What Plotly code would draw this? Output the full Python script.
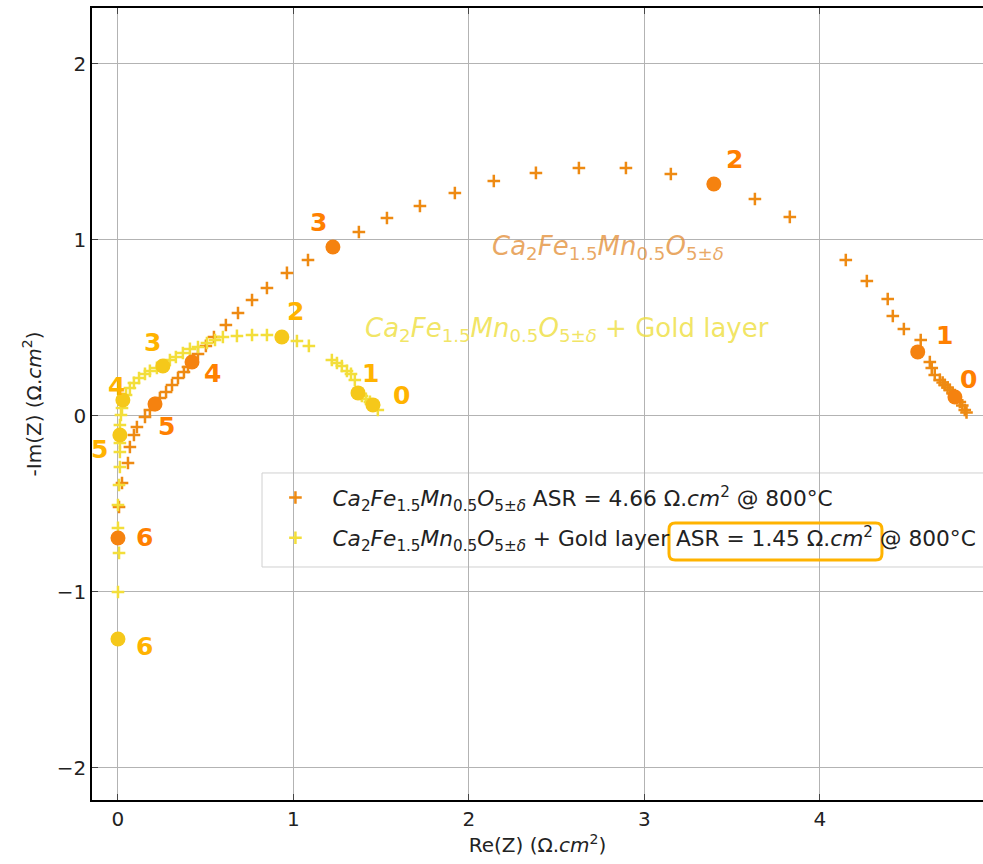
import plotly.graph_objects as go

# ---------------- data ----------------
# Ca2Fe1.5Mn0.5O5±δ (orange) impedance points
orange_re = [0.006, 0.023, 0.057, 0.068, 0.091, 0.108, 0.154, 0.182, 0.239, 0.274, 0.308, 0.342,
             0.376, 0.399, 0.456, 0.501, 0.547, 0.615, 0.684, 0.764, 0.849, 0.963, 1.083, 1.373,
             1.533, 1.721, 1.920, 2.142, 2.382, 2.627, 2.895, 3.151, 3.630, 3.829, 4.148, 4.268,
             4.387, 4.416, 4.479, 4.575, 4.627, 4.638, 4.655, 4.684, 4.700, 4.712, 4.728, 4.741,
             4.757, 4.770, 4.798, 4.812, 4.826, 4.836]
orange_im = [-0.517, -0.381, -0.267, -0.176, -0.108, -0.063, -0.006, 0.034, 0.102, 0.136, 0.176, 0.216,
             0.250, 0.278, 0.352, 0.398, 0.449, 0.517, 0.585, 0.659, 0.727, 0.813, 0.886, 1.045,
             1.125, 1.193, 1.267, 1.335, 1.381, 1.409, 1.409, 1.375, 1.233, 1.131, 0.886, 0.767,
             0.665, 0.568, 0.494, 0.432, 0.307, 0.273, 0.233, 0.205, 0.190, 0.176, 0.162, 0.148,
             0.128, 0.108, 0.080, 0.060, 0.034, 0.020]
# decade markers (orange)
orange_dec_re = [0.0, 0.211, 0.422, 1.225, 3.396, 4.558, 4.770]
orange_dec_im = [-0.693, 0.068, 0.307, 0.960, 1.318, 0.364, 0.108]
orange_dec_lbl = ["6", "5", "4", "3", "2", "1", "0"]
orange_lbl_re = [0.154, 0.279, 0.541, 1.140, 3.516, 4.712, 4.850]
orange_lbl_im = [-0.693, -0.057, 0.244, 1.100, 1.455, 0.460, 0.205]

# Ca2Fe1.5Mn0.5O5±δ + Gold layer (yellow) impedance points
yellow_re = [0.0, 0.006, 0.0, 0.0, 0.006, 0.011, 0.011, 0.011, 0.011, 0.017, 0.023, 0.046, 0.068,
             0.091, 0.120, 0.154, 0.182, 0.222, 0.296, 0.330, 0.370, 0.410, 0.456, 0.507, 0.553,
             0.598, 0.678, 0.764, 0.849, 1.020, 1.088, 1.219, 1.248, 1.276, 1.305, 1.328, 1.350,
             1.390, 1.413, 1.436, 1.459, 1.481]
yellow_im = [-1.000, -0.778, -0.636, -0.506, -0.392, -0.290, -0.205, -0.153, -0.051, 0.006, 0.045,
             0.119, 0.159, 0.188, 0.216, 0.239, 0.256, 0.273, 0.318, 0.335, 0.358, 0.381, 0.392,
             0.415, 0.432, 0.449, 0.455, 0.460, 0.460, 0.426, 0.398, 0.318, 0.301, 0.284, 0.256,
             0.239, 0.205, 0.114, 0.097, 0.080, 0.063, 0.034]
yellow_dec_re = [0.0, 0.011, 0.028, 0.256, 0.934, 1.368, 1.453]
yellow_dec_im = [-1.267, -0.108, 0.091, 0.284, 0.449, 0.131, 0.063]
yellow_dec_lbl = ["6", "5", "4", "3", "2", "1", "0"]
yellow_lbl_re = [0.154, -0.103, -0.011, 0.194, 1.014, 1.442, 1.618]
yellow_lbl_im = [-1.307, -0.193, 0.165, 0.415, 0.591, 0.244, 0.114]

x_ticks = [0, 1, 2, 3, 4]
y_ticks = [-2, -1, 0, 1, 2]

# ---------------- styling ----------------
ORANGE_PLUS = "#EE8A12"
ORANGE_DOT = "#F5820F"
ORANGE_TXT = "#FF8000"
YELLOW_PLUS = "#F3DE3A"
YELLOW_DOT = "#F5C81A"
YELLOW_TXT = "#FFB300"
FONT = "DejaVu Sans"

formula = ("<i>Ca</i><sub>2</sub><i>Fe</i><sub>1.5</sub><i>Mn</i><sub>0.5</sub>"
           "<i>O</i><sub>5±<i>δ</i></sub>")

fig = go.Figure()

fig.add_trace(go.Scatter(
    x=orange_re, y=orange_im, mode="markers",
    marker=dict(symbol="cross-thin", size=9, line=dict(width=2.5, color=ORANGE_PLUS)),
    name=formula + " ASR = 4.66 Ω.<i>cm</i><sup>2</sup> @ 800°C",
    legendgroup="a"))
fig.add_trace(go.Scatter(
    x=yellow_re, y=yellow_im, mode="markers",
    marker=dict(symbol="cross-thin", size=9, line=dict(width=2.5, color=YELLOW_PLUS)),
    name=formula + " + Gold layer ASR = 1.45 Ω.<i>cm</i><sup>2</sup> @ 800°C",
    legendgroup="b"))
fig.add_trace(go.Scatter(
    x=orange_dec_re, y=orange_dec_im, mode="markers",
    marker=dict(symbol="circle", size=15, color=ORANGE_DOT), showlegend=False))
fig.add_trace(go.Scatter(
    x=yellow_dec_re, y=yellow_dec_im, mode="markers",
    marker=dict(symbol="circle", size=15, color=YELLOW_DOT), showlegend=False))

annotations = []
for xv, yv, t in zip(orange_lbl_re, orange_lbl_im, orange_dec_lbl):
    annotations.append(dict(x=xv, y=yv, text="<b>%s</b>" % t, showarrow=False,
                            font=dict(family=FONT, size=25, color=ORANGE_TXT)))
for xv, yv, t in zip(yellow_lbl_re, yellow_lbl_im, yellow_dec_lbl):
    annotations.append(dict(x=xv, y=yv, text="<b>%s</b>" % t, showarrow=False,
                            font=dict(family=FONT, size=25, color=YELLOW_TXT)))
annotations.append(dict(x=2.79, y=0.96, text=formula, showarrow=False,
                        font=dict(family=FONT, size=26, color="rgba(226,140,50,0.75)")))
annotations.append(dict(x=2.56, y=0.494, text=formula + " + Gold layer", showarrow=False,
                        font=dict(family=FONT, size=26, color="rgba(238,222,60,0.8)")))

# rounded highlight box around "ASR = 1.45 Ω.cm2" in legend (paper coords)
L, R, B, T = 0.6476, 0.8866, 0.303, 0.3497
rx, ry = 0.007, 0.008
path = (f"M {L+rx},{B} L {R-rx},{B} Q {R},{B} {R},{B+ry} L {R},{T-ry} Q {R},{T} {R-rx},{T} "
        f"L {L+rx},{T} Q {L},{T} {L},{T-ry} L {L},{B+ry} Q {L},{B} {L+rx},{B} Z")

LEG_X0, LEG_Y1, LEG_Y0 = 0.1908, 0.4129, 0.2942

shapes = [
    # legend frame (white, above gridlines, below traces)
    dict(type="rect", xref="paper", yref="paper", x0=LEG_X0, x1=1.02, y0=LEG_Y0, y1=LEG_Y1,
         fillcolor="white", line=dict(width=1, color="#d0d0d0"), layer="between"),
    dict(type="path", path=path, xref="paper", yref="paper",
         line=dict(color="#FFB300", width=3), layer="above"),
]

fig.update_layout(
    width=983, height=864,
    margin=dict(l=92, r=0, t=8, b=64),
    paper_bgcolor="white", plot_bgcolor="white",
    font=dict(family=FONT, size=20, color="#222222"),
    annotations=annotations,
    shapes=shapes,
    legend=dict(x=LEG_X0 - 0.004, y=LEG_Y1 - 0.005, xanchor="left", yanchor="top",
                bgcolor="rgba(255,255,255,0)", borderwidth=0,
                font=dict(family=FONT, size=21.7, color="#222222"), tracegroupgap=9,
                itemsizing="trace", itemwidth=64),
    xaxis=dict(range=[-0.148, 4.93], tickvals=x_ticks, ticks="inside", ticklen=6,
               showline=True, linecolor="black", linewidth=1.5, mirror="ticks",
               showgrid=True, gridcolor="#b3b3b3", gridwidth=1, zeroline=False,
               tickfont=dict(size=20, color="#222222"),
               title=dict(text="Re(Z) (Ω.<i>cm</i><sup>2</sup>)", font=dict(size=20), standoff=6)),
    yaxis=dict(range=[-2.182, 2.318], tickvals=y_ticks, ticks="inside", ticklen=6,
               showline=True, linecolor="black", linewidth=1.5, mirror=False,
               showgrid=True, gridcolor="#b3b3b3", gridwidth=1, zeroline=False,
               tickfont=dict(size=20, color="#222222"),
               title=dict(text="-Im(Z) (Ω.<i>cm</i><sup>2</sup>)", font=dict(size=20), standoff=10)),
)

fig.write_html("out.html")
